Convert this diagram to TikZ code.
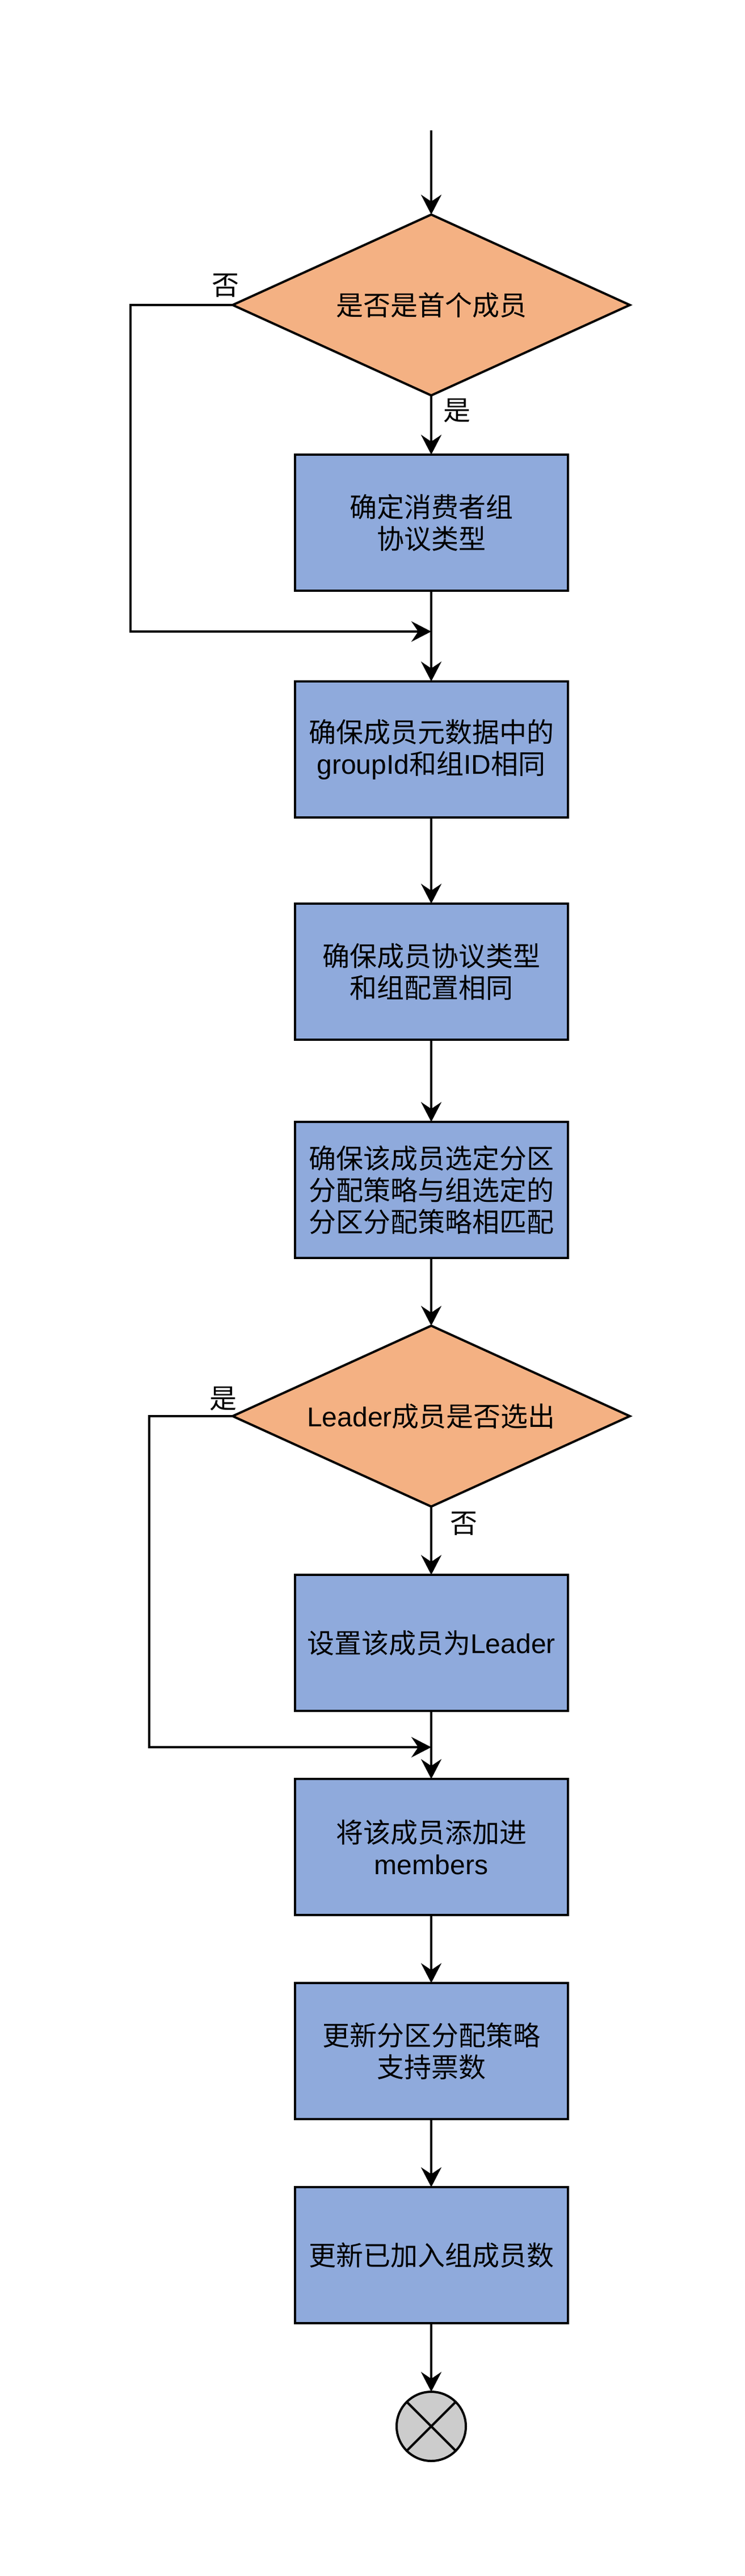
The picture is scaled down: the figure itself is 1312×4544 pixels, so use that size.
\documentclass[tikz,border=0pt]{standalone}
\usepackage{fontspec}
\setmainfont{Liberation Sans}
\newfontfamily\cjk{Noto Sans CJK SC}
\usetikzlibrary{shapes.geometric,arrows.meta}
\definecolor{boxblue}{HTML}{8FAADC}
\definecolor{decor}{HTML}{F4B183}
\definecolor{endgray}{HTML}{CCCCCC}
\begin{document}
\begin{tikzpicture}[x=0.5pt,y=-0.5pt,
  every node/.style={font=\cjk\fontsize{24pt}{28pt}\selectfont},
  stepbox/.style={draw=black, line width=2pt, fill=boxblue, minimum width=240.5pt, minimum height=120pt, align=center, inner sep=0pt, outer sep=0pt},
  decision/.style={diamond, draw=black, line width=2pt, fill=decor, minimum width=350pt, minimum height=159.5pt, inner sep=0pt, outer sep=0pt, aspect=2.2},
  flow/.style={line width=2pt, -{Stealth[length=17.5pt,width=18pt,inset=6pt]}},
  plain/.style={line width=2pt},
  lbl/.style={inner sep=0pt}]
\useasboundingbox (0,0) rectangle (1312,4544);

\coordinate (start) at (760,230);
\node[decision] (d1) at (760,538) {是否是首个成员};
\node[stepbox] (b1) at (760,922) {确定消费者组\\协议类型};
\coordinate (m1) at (760,1114);
\coordinate (c1) at (230,538);
\coordinate (c2) at (230,1114);
\node[stepbox] (b2) at (760,1322) {确保成员元数据中的\\{\rmfamily groupId}和组{\rmfamily ID}相同};
\node[stepbox] (b3) at (760,1714) {确保成员协议类型\\和组配置相同};
\node[stepbox] (b4) at (760,2099) {确保该成员选定分区\\分配策略与组选定的\\分区分配策略相匹配};
\node[decision] (d2) at (760,2498) {{\rmfamily Leader}成员是否选出};
\node[stepbox] (b5) at (760,2898) {设置该成员为{\rmfamily Leader}};
\coordinate (m2) at (760,3082);
\coordinate (c3) at (263,2498);
\coordinate (c4) at (263,3082);
\node[stepbox] (b6) at (760,3258) {将该成员添加进\\{\rmfamily members}};
\node[stepbox] (b7) at (760,3618) {更新分区分配策略\\支持票数};
\node[stepbox] (b8) at (760,3978) {更新已加入组成员数};
\node[circle, draw=black, line width=2pt, fill=endgray, minimum size=61pt, inner sep=0pt, outer sep=0pt] (end) at (760,4280) {};
\draw[line width=2pt] (end.north east) -- (end.south west);
\draw[line width=2pt] (end.north west) -- (end.south east);

\draw[flow] (start) -- (d1.north);
\draw[flow] (d1.south) -- (b1.north);
\draw[flow] (d1.west) -- (c1) -- (c2) -- (m1);
\draw[flow] (b1.south) -- (b2.north);
\draw[flow] (b2.south) -- (b3.north);
\draw[flow] (b3.south) -- (b4.north);
\draw[flow] (b4.south) -- (d2.north);
\draw[flow] (d2.south) -- (b5.north);
\draw[flow] (d2.west) -- (c3) -- (c4) -- (m2);
\draw[flow] (b5.south) -- (b6.north);
\draw[flow] (b6.south) -- (b7.north);
\draw[flow] (b7.south) -- (b8.north);
\draw[flow] (b8.south) -- (end.north);

\node[lbl] (l1) at (397,504) {否};
\node[lbl] (l2) at (805,724) {是};
\node[lbl] (l3) at (393,2467) {是};
\node[lbl] (l4) at (817,2688) {否};
\end{tikzpicture}
\end{document}
